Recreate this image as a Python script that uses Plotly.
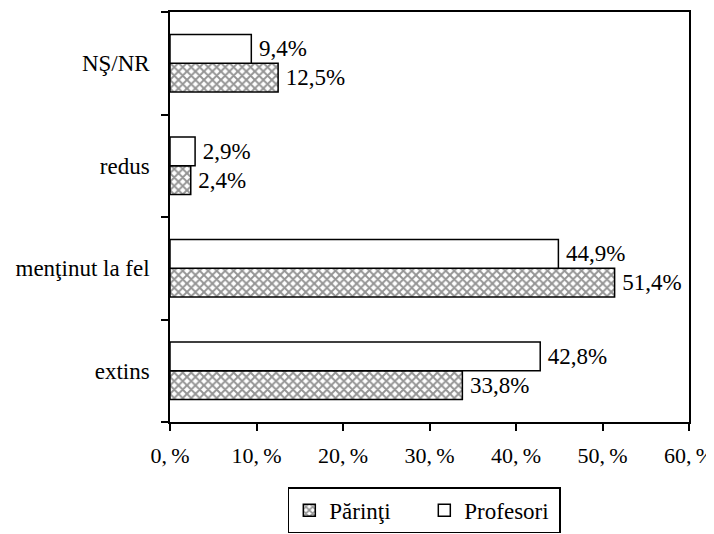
import plotly.graph_objects as go

categories = ["extins", "menţinut la fel", "redus", "NŞ/NR"]
parinti = [33.8, 51.4, 2.4, 12.5]
profesori = [42.8, 44.9, 2.9, 9.4]
tick_vals = [0, 10, 20, 30, 40, 50, 60]
tick_text = ["0,\u2009%", "10,\u2009%", "20,\u2009%", "30,\u2009%", "40,\u2009%", "50,\u2009%", "60,\u2009%"]

def fmt(v):
    return "\u2009" + f"{v:.1f}".replace(".", ",") + "%"

FAMILY = "Liberation Serif, Times New Roman, DejaVu Serif, serif"
font = dict(family=FAMILY, size=23, color="black")
tfont = dict(family=FAMILY, size=22, color="black")

fig = go.Figure()
fig.add_trace(go.Bar(
    y=categories, x=parinti, orientation="h", name="Părinţi",
    text=[fmt(v) for v in parinti], textposition="outside",
    textfont=font, cliponaxis=False,
    marker=dict(color="white", line=dict(color="black", width=1.5),
                pattern=dict(shape="x", fgcolor="#2a2a2a", bgcolor="white", size=6, solidity=0.55)),
))
fig.add_trace(go.Bar(
    y=categories, x=profesori, orientation="h", name="Profesori",
    text=[fmt(v) for v in profesori], textposition="outside",
    textfont=font, cliponaxis=False,
    marker=dict(color="white", line=dict(color="black", width=1.5)),
))

fig.update_layout(
    width=706, height=526,
    margin=dict(l=162, r=25, t=4, b=112, autoexpand=False),
    paper_bgcolor="white", plot_bgcolor="white",
    barmode="group", bargap=0.44, bargroupgap=0,
    font=font,
    showlegend=True,
    legend=dict(orientation="h", x=0.49, xanchor="center", y=-0.159, yanchor="top",
                bordercolor="black", borderwidth=1.5, font=font,
                traceorder="normal", entrywidth=90, itemwidth=30),
    xaxis=dict(range=[0, 60], tickvals=tick_vals, ticktext=tick_text,
               showline=True, linecolor="black", linewidth=1.5, mirror=True,
               ticks="outside", ticklen=7, tickcolor="black", tickwidth=1.5,
               showgrid=False, zeroline=False, tickfont=tfont, automargin=False,
               ticklabeloverflow="allow", ticklabelstandoff=6),
    yaxis=dict(categoryorder="array", categoryarray=categories,
               showline=True, linecolor="black", linewidth=1.5, mirror=True,
               ticks="outside", ticklen=7, tickcolor="black", tickwidth=1.5,
               tickson="boundaries", showgrid=False, tickfont=font,
               ticklabelstandoff=14, automargin=False),
)

fig.write_html("out.html")
